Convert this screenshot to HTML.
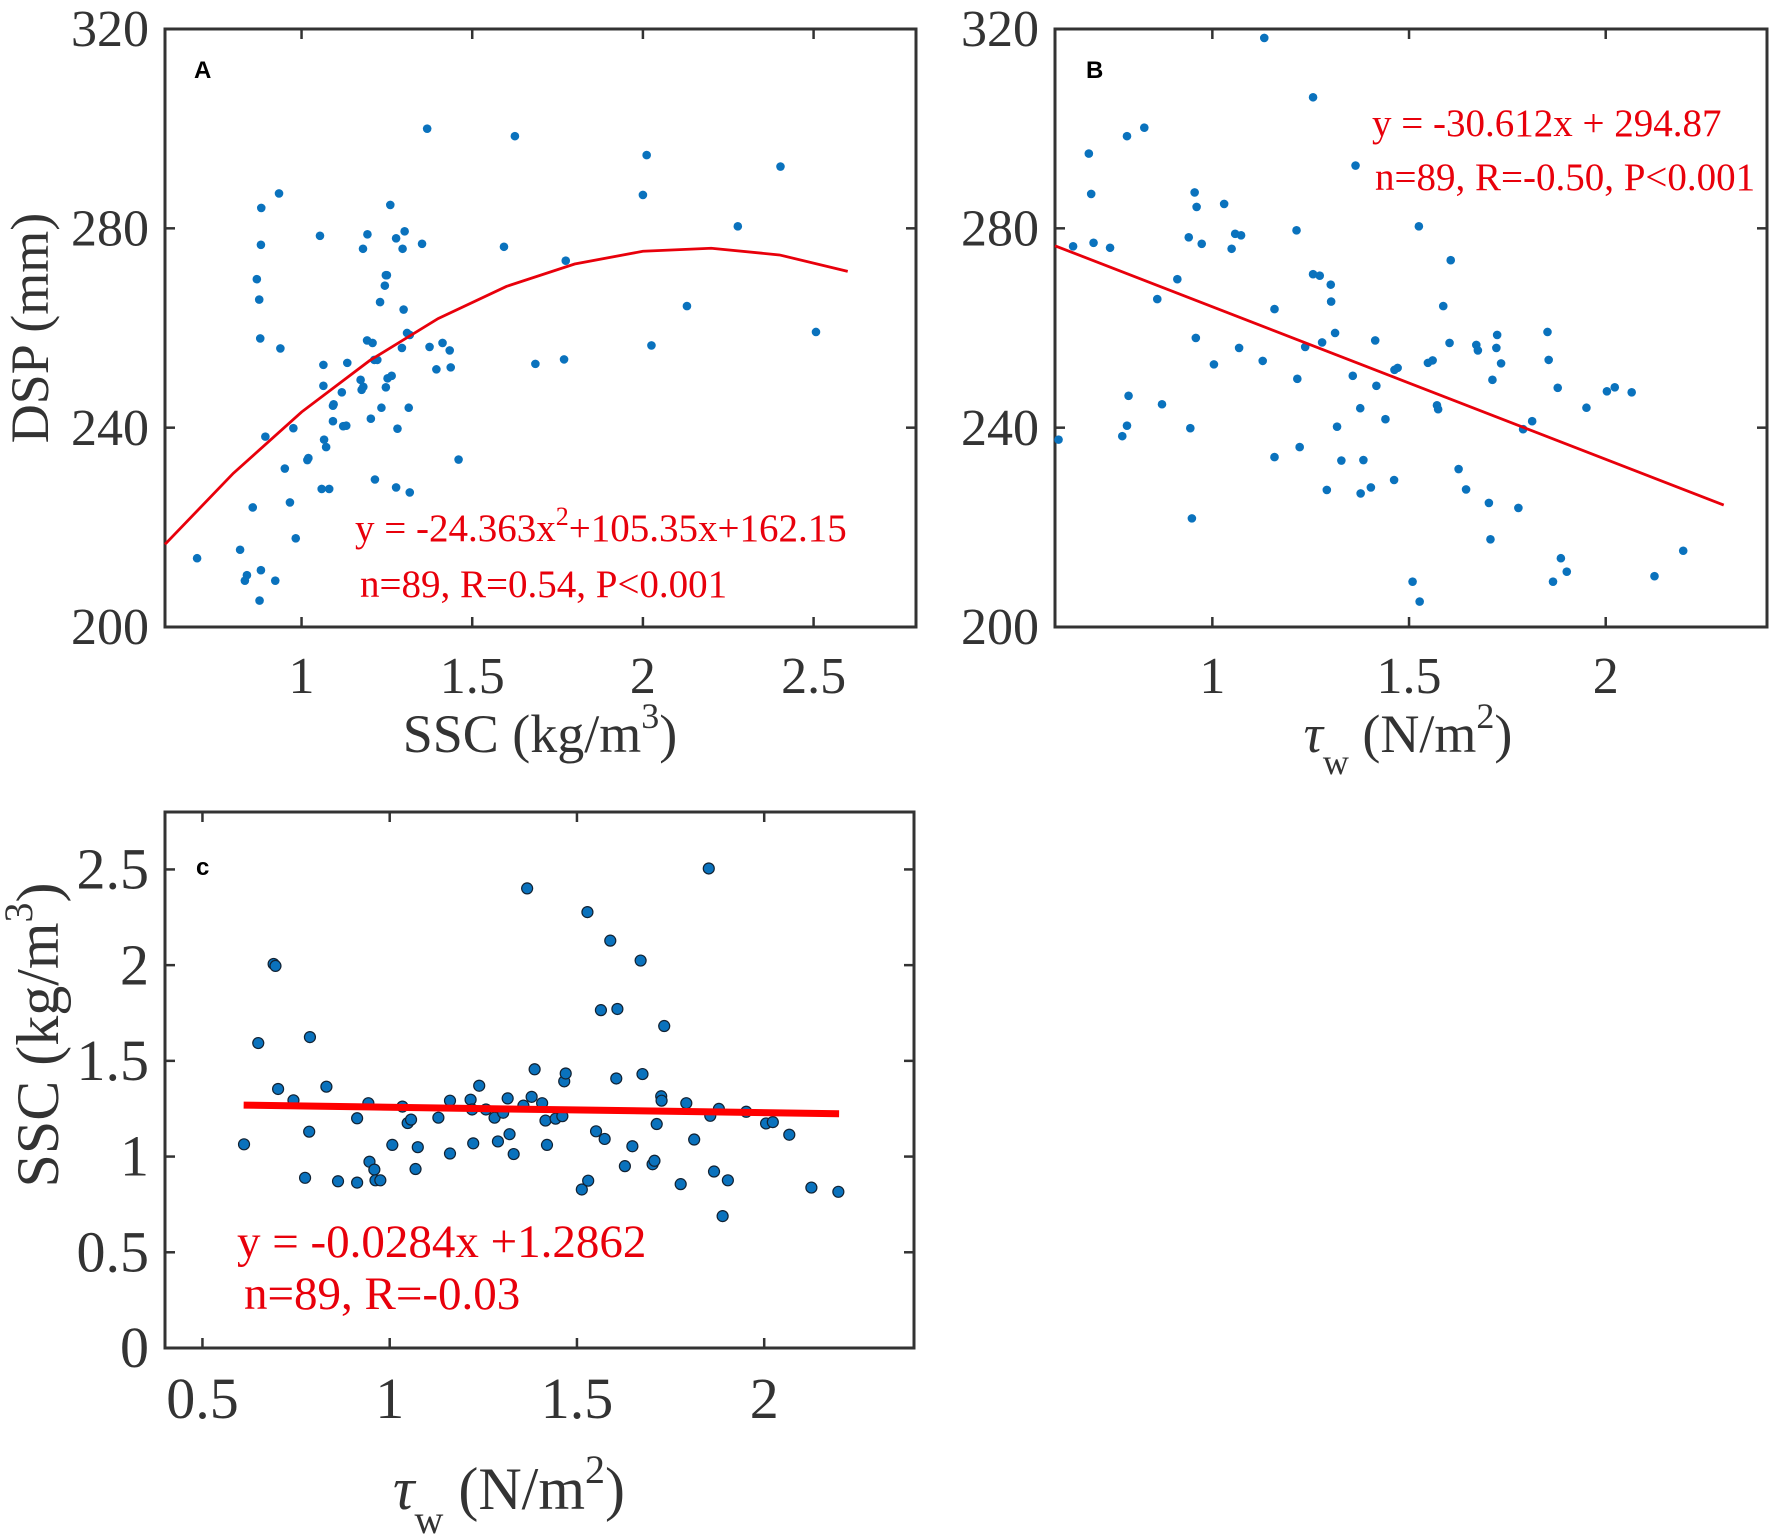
<!DOCTYPE html>
<html><head><meta charset="utf-8">
<style>
html,body{margin:0;padding:0;background:#fff;}
svg{display:block;}
text{font-family:"Liberation Serif",serif;}
</style></head>
<body>
<svg id="fig" width="1772" height="1540" viewBox="0 0 1772 1540" xmlns="http://www.w3.org/2000/svg">
<g id="pa"></g>
<g id="pb"></g>
<g id="pc"></g>
</svg>
<script>
const NS="http://www.w3.org/2000/svg";
// Panel A data: SSC (x) vs DSP (y)
const aX=[0.694,0.82,0.834,0.84,0.857,0.869,0.876,0.879,0.881,0.882,0.881,0.877,0.894,0.923,0.934,0.938,0.951,0.966,0.976,0.983,1.017,1.02,1.054,1.059,1.064,1.064,1.066,1.072,1.081,1.092,1.092,1.094,1.118,1.122,1.131,1.134,1.173,1.176,1.181,1.18,1.193,1.192,1.208,1.203,1.215,1.213,1.222,1.23,1.234,1.244,1.247,1.25,1.247,1.252,1.26,1.264,1.277,1.281,1.277,1.296,1.294,1.299,1.302,1.309,1.314,1.317,1.317,1.353,1.368,1.375,1.395,1.413,1.434,1.437,1.46,1.593,1.625,1.685,1.769,1.774,2.0,2.011,2.025,2.129,2.278,2.403,2.507];
const aY=[213.8,215.5,209.3,210.4,224,269.8,265.7,257.9,276.7,284.1,211.4,205.3,238.2,209.3,287,255.9,231.8,225,239.9,217.8,233.5,233.9,278.5,227.7,252.6,248.4,237.6,236.1,227.7,241.3,244.4,244.7,247.1,240.3,240.4,253,249.6,247.6,248.2,275.9,278.8,257.5,257,241.8,229.6,253.6,253.6,265.2,244,268.5,248.1,270.6,270.6,249.9,284.7,250.4,278,239.8,228,275.9,256,263.7,279.4,259,244,227,258.6,276.9,300,256.2,251.7,257,255.5,252.1,233.6,276.3,298.5,252.8,253.7,273.5,286.7,294.7,256.5,264.4,280.4,292.4,259.2];
const aCoef=[-24.363,105.35,162.15];
const aXTicks=[1,1.5,2,2.5];
const aXTickLabels=["1","1.5","2","2.5"];
const aYTicks=[200,240,280,320];
const aYTickLabels=["200","240","280","320"];
// Panel B data: tau_w (x) vs DSP (y)
const bX=[0.609,0.646,0.686,0.692,0.698,0.74,0.771,0.783,0.783,0.787,0.827,0.86,0.872,0.911,0.94,0.944,0.948,0.955,0.96,0.958,0.973,1.004,1.03,1.049,1.058,1.073,1.068,1.128,1.132,1.158,1.158,1.214,1.216,1.222,1.236,1.256,1.256,1.273,1.279,1.291,1.301,1.302,1.312,1.317,1.328,1.357,1.364,1.376,1.377,1.384,1.403,1.414,1.417,1.44,1.462,1.463,1.471,1.509,1.525,1.527,1.548,1.56,1.571,1.574,1.587,1.603,1.606,1.626,1.645,1.671,1.675,1.703,1.707,1.712,1.722,1.724,1.734,1.778,1.79,1.813,1.852,1.855,1.866,1.878,1.886,1.901,1.951,2.003,2.023,2.066,2.124,2.197];
const bY=[237.6,276.4,295,286.9,277.1,276.1,238.3,298.5,240.4,246.4,300.2,265.8,244.7,269.8,278.2,239.9,221.8,287.2,284.3,258,276.9,252.7,284.9,275.9,278.9,278.6,256,253.4,318.2,263.8,234.1,279.6,249.8,236.1,256.2,306.3,270.8,270.5,257.1,227.5,268.7,265.3,259,240.2,233.4,250.4,292.6,243.9,226.8,233.5,228,257.5,248.4,241.7,229.5,251.6,252,209.1,280.4,205.1,253,253.5,244.5,243.7,264.4,257,273.6,231.7,227.6,256.6,255.5,224.9,217.6,249.6,256,258.6,252.9,223.9,239.7,241.3,259.2,253.6,209.1,248,213.8,211.1,244,247.3,248.1,247.1,210.2,215.3];
const bCoef=[-30.612,294.87];
const bXTicks=[1,1.5,2];
const bXTickLabels=["1","1.5","2"];
const bYTicks=[200,240,280,320];
const bYTickLabels=["200","240","280","320"];
// Panel C data: tau_w (x) vs SSC (y)
const cX=[0.611,0.649,0.69,0.695,0.702,0.743,0.774,0.785,0.787,0.831,0.862,0.913,0.913,0.943,0.946,0.959,0.962,0.975,1.007,1.034,1.048,1.057,1.069,1.075,1.13,1.161,1.161,1.216,1.22,1.223,1.239,1.257,1.28,1.289,1.303,1.315,1.32,1.331,1.357,1.367,1.379,1.387,1.407,1.416,1.42,1.443,1.461,1.466,1.47,1.513,1.528,1.53,1.551,1.564,1.574,1.589,1.605,1.608,1.628,1.648,1.67,1.675,1.702,1.707,1.713,1.725,1.726,1.733,1.777,1.792,1.813,1.852,1.856,1.866,1.879,1.889,1.903,1.952,2.005,2.023,2.067,2.126,2.198];
const cY=[1.064,1.593,2.006,1.996,1.353,1.294,0.889,1.13,1.624,1.365,0.871,1.2,0.864,1.279,0.973,0.932,0.876,0.876,1.061,1.261,1.175,1.193,0.935,1.049,1.203,1.292,1.016,1.297,1.246,1.069,1.37,1.246,1.203,1.079,1.229,1.304,1.117,1.013,1.266,2.401,1.312,1.456,1.279,1.188,1.061,1.198,1.211,1.393,1.434,0.828,2.277,0.874,1.132,1.765,1.092,2.128,1.408,1.771,0.95,1.054,2.024,1.431,0.96,0.978,1.17,1.315,1.292,1.682,0.856,1.279,1.089,2.505,1.213,0.922,1.249,0.689,0.876,1.234,1.173,1.18,1.114,0.838,0.816];
const cCoef=[-0.0284,1.2862];
const cXTicks=[0.5,1,1.5,2];
const cXTickLabels=["0.5","1","1.5","2"];
const cYTicks=[0,0.5,1,1.5,2,2.5];
const cYTickLabels=["0","0.5","1","1.5","2","2.5"];

function mk(parent,tag,attrs,txt){
  const e=document.createElementNS(NS,tag);
  for(const k in attrs) e.setAttribute(k,attrs[k]);
  if(txt!==undefined) e.textContent=txt;
  parent.appendChild(e);
  return e;
}
function panel(g,box,xd,yd,xt,xtl,yt,ytl,fs,tickOff){
  const sx=v=>box.l+(v-xd[0])/(xd[1]-xd[0])*(box.r-box.l);
  const sy=v=>box.b-(v-yd[0])/(yd[1]-yd[0])*(box.b-box.t);
  const frame=mk(g,'rect',{x:box.l,y:box.t,width:box.r-box.l,height:box.b-box.t,fill:'none',stroke:'#333','stroke-width':3});
  
  
  xt.forEach((v,i)=>{
    const x=sx(v);
    const t1=mk(g,'line',{x1:x,x2:x,y1:box.b,y2:box.b-10,stroke:'#333','stroke-width':2.5});
    
    
    const t2=mk(g,'line',{x1:x,x2:x,y1:box.t,y2:box.t+10,stroke:'#333','stroke-width':2.5});
    
    
    const lb=mk(g,'text',{x:x,y:box.b+tickOff.x,'text-anchor':'middle','font-size':fs,fill:'#333'},xtl[i]);
    
    
  });
  yt.forEach((v,i)=>{
    const y=sy(v);
    const t1=mk(g,'line',{x1:box.l,x2:box.l+10,y1:y,y2:y,stroke:'#333','stroke-width':2.5});
    
    
    const t2=mk(g,'line',{x1:box.r,x2:box.r-10,y1:y,y2:y,stroke:'#333','stroke-width':2.5});
    
    
    const lb=mk(g,'text',{x:box.l-tickOff.y,y:y+fs*0.33,'text-anchor':'end','font-size':fs,fill:'#333'},ytl[i]);
    
    
  });
  return {sx,sy};
}
function dots(g,s,xs,ys,r,outline){
  xs.forEach((v,i)=>{
    const c=mk(g,'circle',{cx:s.sx(v),cy:s.sy(ys[i]),r:r,fill:'#0a72bd',stroke:outline?'#123':'none','stroke-width':outline?1.2:0});
    
    
  });
}
function lbl(g,x,y,txt,name){
  const t=mk(g,'text',{x:x,y:y,style:'font-family:"Liberation Sans",sans-serif;font-weight:bold;font-size:24px',fill:'#000'},txt);
  
  
}

// ---------- Panel A ----------
const ga=document.getElementById('pa');
const boxA={l:165,r:916,t:29,b:627};
const sA=panel(ga,boxA,[0.6,2.8],[200,320],aXTicks,aXTickLabels,aYTicks,aYTickLabels,52,{x:66,y:16});
dots(ga,sA,aX,aY,4.3,false);
{
  let pts=[];
  for(let k=0;k<=10;k++){const x=0.6+k*0.2;pts.push(sA.sx(x)+','+sA.sy(aCoef[0]*x*x+aCoef[1]*x+aCoef[2]));}
  const pl=mk(ga,'polyline',{points:pts.join(' '),fill:'none',stroke:'#e8000b','stroke-width':2.8});
  
  
}
lbl(ga,194,78,'A','panel-a-label');
{
  const t=mk(ga,'text',{x:355,y:541,'font-size':39,fill:'#e8000b'});
  
  
  t.innerHTML='y = -24.363x<tspan dy="-16" font-size="26">2</tspan><tspan dy="16">+105.35x+162.15</tspan>';
  const t2=mk(ga,'text',{x:360,y:597,'font-size':39,fill:'#e8000b'},'n=89, R=0.54, P<0.001');
  
  
  const xl=mk(ga,'text',{x:540,y:752,'text-anchor':'middle','font-size':54,fill:'#333'});
  
  
  xl.innerHTML='SSC (kg/m<tspan dy="-24" font-size="36">3</tspan><tspan dy="24">)</tspan>';
  const yl=mk(ga,'text',{x:0,y:0,'text-anchor':'middle','font-size':54,fill:'#333',transform:'translate(48,328) rotate(-90)'},'DSP (mm)');
  
  
}

// ---------- Panel B ----------
const gb=document.getElementById('pb');
const boxB={l:1055,r:1767,t:29,b:627};
const sB=panel(gb,boxB,[0.6,2.41],[200,320],bXTicks,bXTickLabels,bYTicks,bYTickLabels,52,{x:66,y:16});
dots(gb,sB,bX,bY,4.3,false);
{
  const x0=0.6,x1=2.3;
  const ln=mk(gb,'line',{x1:sB.sx(x0),y1:sB.sy(bCoef[0]*x0+bCoef[1]),x2:sB.sx(x1),y2:sB.sy(bCoef[0]*x1+bCoef[1]),stroke:'#e8000b','stroke-width':2.8});
  
  
}
lbl(gb,1086,78,'B','panel-b-label');
{
  const t=mk(gb,'text',{x:1372,y:136,'font-size':39,fill:'#e8000b'},'y = -30.612x + 294.87');
  
  
  const t2=mk(gb,'text',{x:1375,y:190,'font-size':39,fill:'#e8000b'},'n=89, R=-0.50, P<0.001');
  
  
  const xl=mk(gb,'text',{x:1408,y:752,'text-anchor':'middle','font-size':54,fill:'#333'});
  
  
  xl.innerHTML='<tspan font-style="italic">τ</tspan><tspan dy="22" font-size="36">w</tspan><tspan dy="-22"> (N/m</tspan><tspan dy="-24" font-size="36">2</tspan><tspan dy="24">)</tspan>';
}

// ---------- Panel C ----------
const gc=document.getElementById('pc');
const boxC={l:165,r:914,t:812,b:1348};
const sC=panel(gc,boxC,[0.4,2.4],[0,2.8],cXTicks,cXTickLabels,cYTicks,cYTickLabels,58,{x:70,y:16});
dots(gc,sC,cX,cY,5.5,true);
{
  const x0=0.61,x1=2.2;
  const ln=mk(gc,'line',{x1:sC.sx(x0),y1:sC.sy(cCoef[0]*x0+cCoef[1]),x2:sC.sx(x1),y2:sC.sy(cCoef[0]*x1+cCoef[1]),stroke:'#f00','stroke-width':7});
  
  
}
lbl(gc,196,875,'c','panel-c-label');
{
  const t=mk(gc,'text',{x:237,y:1257,'font-size':47,fill:'#e8000b'},'y = -0.0284x +1.2862');
  
  
  const t2=mk(gc,'text',{x:244,y:1309,'font-size':47,fill:'#e8000b'},'n=89, R=-0.03');
  
  
  const xl=mk(gc,'text',{x:509,y:1509,'text-anchor':'middle','font-size':60,fill:'#333'});
  
  
  xl.innerHTML='<tspan font-style="italic">τ</tspan><tspan dy="24" font-size="40">w</tspan><tspan dy="-24"> (N/m</tspan><tspan dy="-26" font-size="40">2</tspan><tspan dy="26">)</tspan>';
  const yl=mk(gc,'text',{x:0,y:0,'text-anchor':'middle','font-size':60,fill:'#333',transform:'translate(58,1035) rotate(-90)'});
  
  
  yl.innerHTML='SSC (kg/m<tspan dy="-26" font-size="40">3</tspan><tspan dy="26">)</tspan>';
}
</script>
</body></html>
